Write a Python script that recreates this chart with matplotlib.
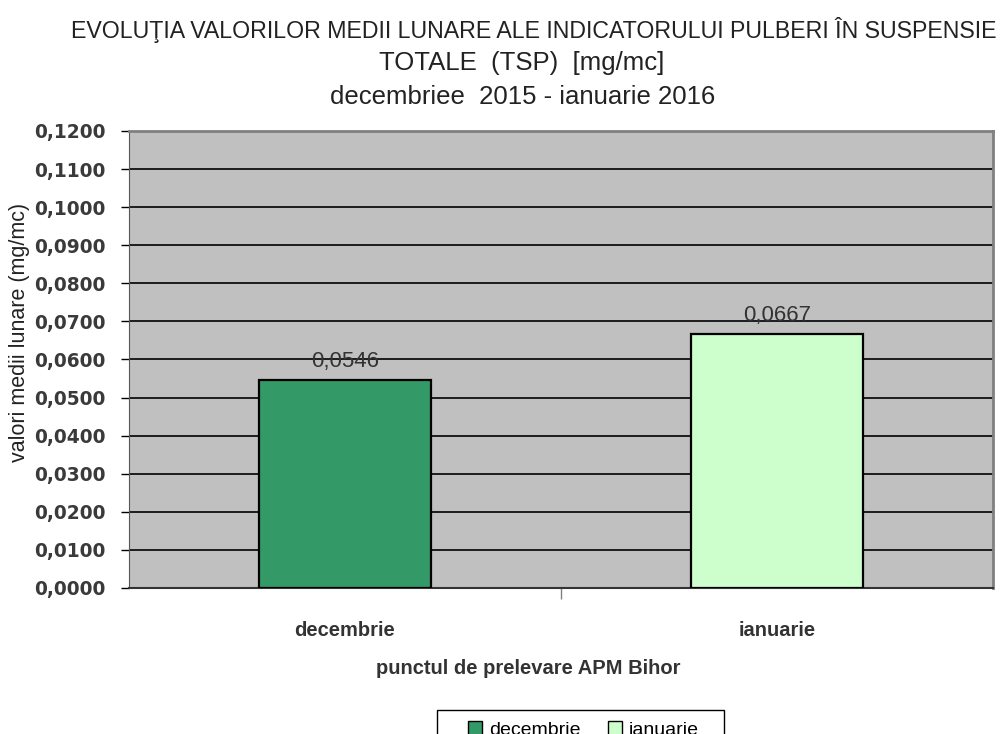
import matplotlib
matplotlib.use("Agg")
import matplotlib.pyplot as plt
from matplotlib.patches import Patch, Rectangle
from matplotlib.ticker import FuncFormatter, FixedLocator

categories = ["decembrie", "ianuarie"]
values = [0.0546, 0.0667]
colors = ["#339966", "#CCFFCC"]
yticks = [i / 100 for i in range(0, 13)]

title_lines = ["EVOLUŢIA VALORILOR MEDII LUNARE ALE INDICATORULUI PULBERI ÎN SUSPENSIE",
               "TOTALE  (TSP)  [mg/mc]",
               "decembriee  2015 - ianuarie 2016"]

sans = ["Liberation Sans", "DejaVu Sans"]
W, H = 1004, 734

fig = plt.figure(figsize=(10.04, 7.34), dpi=100)
ax = fig.add_axes([129/W, 1-588/H, (993-129)/W, (588-131)/H])
ax.set_facecolor("#C0C0C0")

x = list(range(len(categories)))
bars = ax.bar(x, values, width=0.4, color=colors, edgecolor="black", linewidth=1.6, zorder=3)
ax.set_xlim(-0.5, 1.5)
ax.set_ylim(0, 0.12)
ax.set_yticks(yticks)
ax.yaxis.set_major_formatter(FuncFormatter(lambda v, p: f"{v:.4f}".replace(".", ",")))
ax.grid(axis="y", color="black", linewidth=1.2, zorder=1)
ax.set_axisbelow(True)

ax.set_xticks(x)
ax.set_xticklabels(categories)
ax.tick_params(axis="x", length=0, pad=24)
ax.xaxis.set_minor_locator(FixedLocator([0.5]))
ax.tick_params(axis="x", which="minor", length=8, width=1, color="#808080")
ax.tick_params(axis="y", length=6, width=1, pad=11)
for lab in ax.get_xticklabels():
    lab.set_fontfamily(sans)
    lab.set_fontweight("bold")
    lab.set_color("#333333")
    lab.set_fontsize(14.5)
for lab in ax.get_yticklabels():
    lab.set_fontfamily("DejaVu Sans")
    lab.set_fontweight("bold")
    lab.set_color("#3a3a3a")
    lab.set_fontsize(13.4)

for s in ["top", "right"]:
    ax.spines[s].set_color("#808080")
    ax.spines[s].set_linewidth(2)
ax.spines["left"].set_color("#555555")
ax.spines["bottom"].set_color("#333333")
ax.spines["bottom"].set_linewidth(1.5)

for b, v in zip(bars, values):
    ax.annotate(f"{v:.4f}".replace(".", ","), (b.get_x() + b.get_width()/2, v),
                xytext=(0, 6), textcoords="offset points", ha="center", va="bottom",
                fontsize=16, family=sans, color="#333333")

fig.text(528/W, 1-668/H, "punctul de prelevare APM Bihor", ha="center", va="center",
         fontsize=14.5, family=sans, fontweight="bold", color="#333333")
fig.text(20/W, 1-332/H, "valori medii lunare (mg/mc)", ha="center", va="center",
         rotation=90, fontsize=15.5, family=sans, color="#222222")

fig.text(534/W, 1-30/H, title_lines[0], ha="center", va="center", fontsize=16.7,
         family=sans, color="#222222")
fig.text(522/W, 1-63/H, title_lines[1], ha="center", va="center", fontsize=18.5,
         family=sans, color="#222222")
fig.text(523/W, 1-97/H, title_lines[2], ha="center", va="center", fontsize=18.5,
         family=sans, color="#222222")

# legend frame (drawn separately so its padding matches the reference)
fig.patches.append(Rectangle((437/W, 1-745/H), (724-437)/W, (745-710)/H,
                             transform=fig.transFigure, facecolor="white",
                             edgecolor="black", linewidth=1))
handles = [Patch(facecolor=c, edgecolor="black", label=l) for c, l in zip(colors, categories)]
leg = fig.legend(handles=handles, loc="upper left", bbox_to_anchor=(452/W, 1-705/H),
                 ncol=2, frameon=False,
                 prop={"family": sans, "size": 14}, handlelength=0.75, handleheight=0.9,
                 columnspacing=1.4, handletextpad=0.35, borderpad=0.3)

fig.savefig("out.png", dpi=100)
